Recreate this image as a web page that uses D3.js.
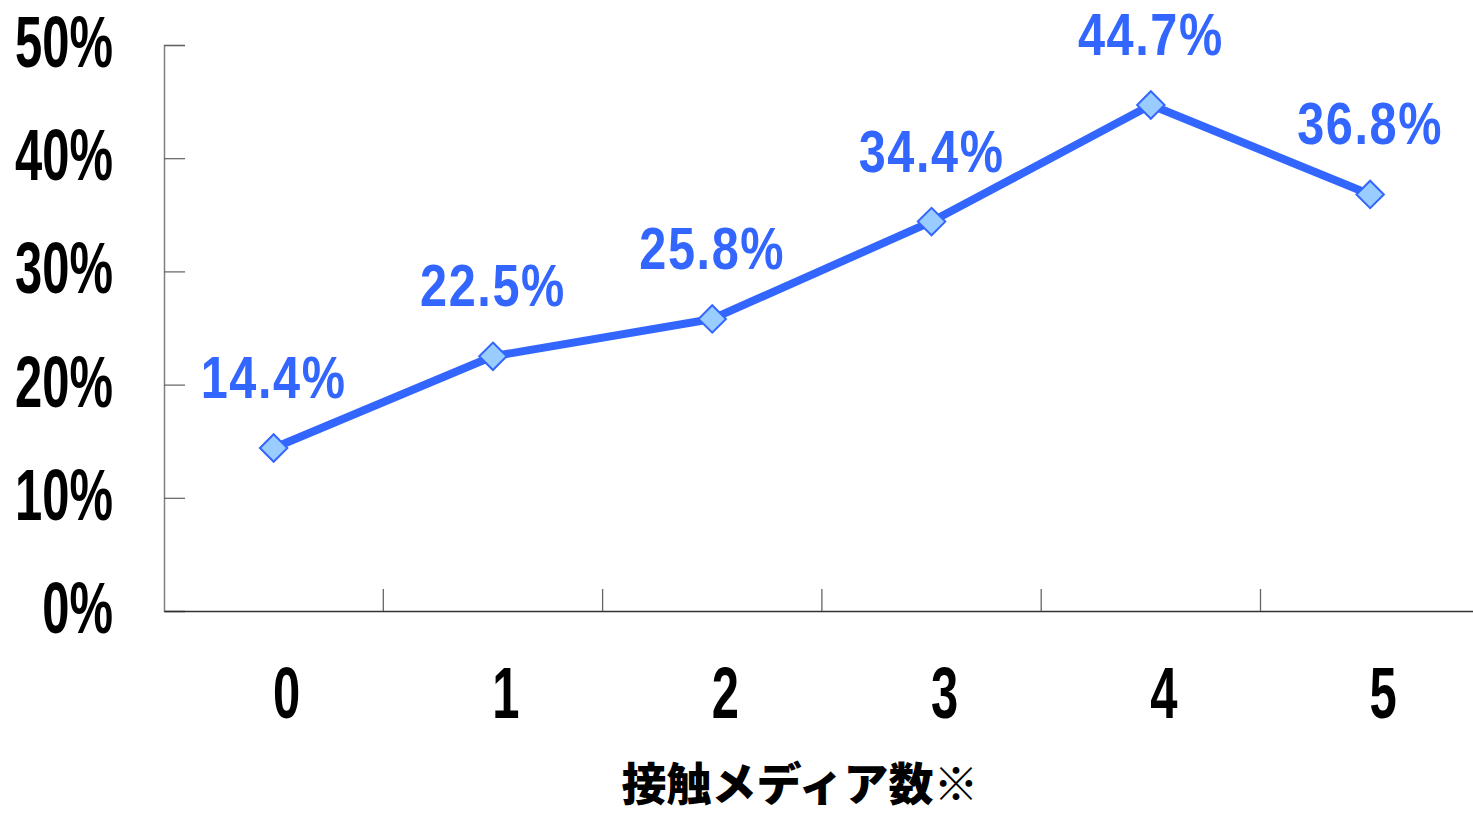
<!DOCTYPE html>
<html>
<head>
<meta charset="utf-8">
<script src="https://cdn.jsdelivr.net/npm/d3@7"></script>
<style>
  html, body { margin: 0; padding: 0; background: #fff; }
  svg { display: block; }
</style>
</head>
<body>
<svg id="chart" width="1473" height="813"></svg>
<script>
// Share by number of media contacted
const categories = ["0", "1", "2", "3", "4", "5"];
const values = [14.4, 22.5, 25.8, 34.4, 44.7, 36.8];
const yTicks = [0, 10, 20, 30, 40, 50];
const yTickLabels = ["0%", "10%", "20%", "30%", "40%", "50%"];
const xTitle = "接触メディア数※";

const svg = d3.select("#chart");
const plotLeft = 164, plotTop = 45, plotBottom = 611, step = 219.3;

const x = d3.scaleBand()
  .domain(categories)
  .range([plotLeft, plotLeft + step * categories.length])
  .paddingInner(0).paddingOuter(0);

const y = d3.scaleLinear().domain([0, 50]).range([plotBottom, plotTop]);

const axisFont = "'Liberation Sans', Arial, sans-serif";

// Y axis: line with inward ticks
const yAxis = svg.append("g")
  .attr("transform", `translate(${plotLeft},0)`)
  .call(d3.axisRight(y).tickValues(yTicks).tickSize(21).tickFormat(""));
yAxis.select(".domain").attr("stroke", "#808080").attr("stroke-width", 1.5);
yAxis.selectAll(".tick line").attr("stroke", "#606060").attr("stroke-width", 1.2);

// Y tick labels (condensed)
svg.append("g").selectAll("text")
  .data(yTicks)
  .join("text")
  .attr("transform", (d) => `translate(113,${y(d) + 22}) scale(0.68,1)`)
  .attr("text-anchor", "end")
  .attr("font-family", axisFont)
  .attr("font-weight", "bold")
  .attr("font-size", 72)
  .attr("fill", "#000")
  .text((d, i) => yTickLabels[i]);

// X axis baseline
const xAxis = svg.append("g")
  .attr("transform", `translate(0,${plotBottom})`)
  .call(d3.axisBottom(x).tickSize(0).tickFormat(""));
xAxis.select(".domain").attr("stroke", "#333").attr("stroke-width", 1.5);
xAxis.selectAll(".tick").remove();

// Category boundary ticks (pointing up)
svg.append("g").selectAll("line")
  .data(categories.slice(1))
  .join("line")
  .attr("x1", (d) => x(d)).attr("x2", (d) => x(d))
  .attr("y1", plotBottom).attr("y2", plotBottom - 22)
  .attr("stroke", "#666").attr("stroke-width", 1.3);

// X tick labels (condensed)
svg.append("g").selectAll("text")
  .data(categories)
  .join("text")
  .attr("transform", (d) => `translate(${x(d) + x.bandwidth() / 2 + 13},718) scale(0.68,1)`)
  .attr("text-anchor", "middle")
  .attr("font-family", axisFont)
  .attr("font-weight", "bold")
  .attr("font-size", 72)
  .attr("fill", "#000")
  .text((d) => d);

// X axis title
svg.append("text")
  .attr("x", 800).attr("y", 801)
  .attr("text-anchor", "middle")
  .attr("font-family", "'Noto Sans CJK JP', sans-serif")
  .attr("font-weight", 900)
  .attr("font-size", 45)
  .attr("fill", "#000")
  .text(xTitle);

const blue = "#3366FF";
const cx = (i) => x(categories[i]) + x.bandwidth() / 2;

// Series line
const line = d3.line().x((d, i) => cx(i)).y((d) => y(d));
svg.append("path")
  .datum(values)
  .attr("d", line)
  .attr("fill", "none")
  .attr("stroke", blue)
  .attr("stroke-width", 8)
  .attr("stroke-linejoin", "round");

// Diamond markers
const diamond = d3.symbol().type(d3.symbolDiamond2).size(480);
svg.append("g").selectAll("path")
  .data(values)
  .join("path")
  .attr("transform", (d, i) => `translate(${cx(i)},${y(d)})`)
  .attr("d", diamond)
  .attr("fill", "#99CCFF")
  .attr("stroke", blue)
  .attr("stroke-width", 2);

// Value labels
svg.append("g").selectAll("text")
  .data(values)
  .join("text")
  .attr("transform", (d, i) => `translate(${cx(i)},${y(d) - 50}) scale(0.81,1)`)
  .attr("text-anchor", "middle")
  .attr("font-family", axisFont)
  .attr("font-weight", "bold")
  .attr("font-size", 60)
  .attr("letter-spacing", 2)
  .attr("fill", blue)
  .text((d) => d.toFixed(1) + "%");
</script>
</body>
</html>
